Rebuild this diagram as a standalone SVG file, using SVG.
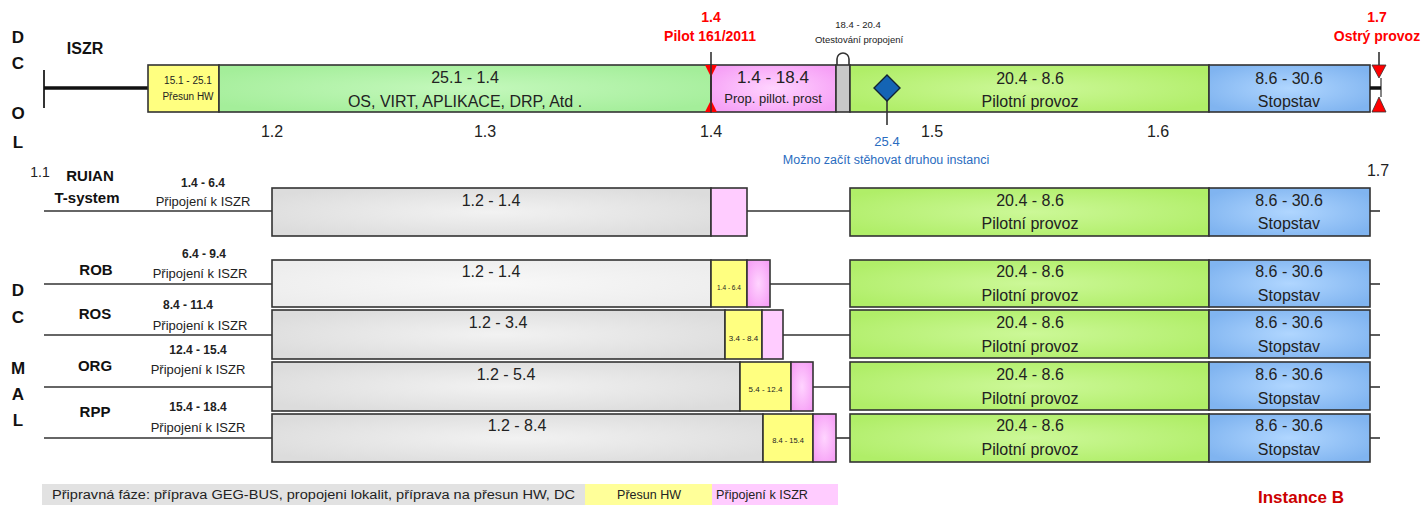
<svg xmlns="http://www.w3.org/2000/svg" width="1425" height="505" viewBox="0 0 1425 505">
<defs>
<radialGradient id="gGray" cx="50%" cy="50%" r="60%"><stop offset="0" stop-color="#f2f2f2"/><stop offset="1" stop-color="#dcdcdc"/></radialGradient>
<radialGradient id="gGrayL" cx="50%" cy="50%" r="60%"><stop offset="0" stop-color="#f8f8f8"/><stop offset="1" stop-color="#ededed"/></radialGradient>
<radialGradient id="gGreen" cx="50%" cy="50%" r="60%"><stop offset="0" stop-color="#c4f8bc"/><stop offset="1" stop-color="#a4ee9a"/></radialGradient>
<radialGradient id="gLime" cx="50%" cy="50%" r="60%"><stop offset="0" stop-color="#ccf898"/><stop offset="1" stop-color="#b0ee68"/></radialGradient>
<radialGradient id="gBlue" cx="50%" cy="50%" r="60%"><stop offset="0" stop-color="#b0d6ff"/><stop offset="1" stop-color="#80b4f0"/></radialGradient>
<radialGradient id="gPink" cx="50%" cy="50%" r="60%"><stop offset="0" stop-color="#ffd4ff"/><stop offset="1" stop-color="#f6a0f6"/></radialGradient>
<clipPath id="cRos"><rect x="725" y="310" width="37" height="49"/></clipPath>
<style>
.box{stroke:#333;stroke-width:1.6}
.gray{fill:url(#gGray)}
.grayl{fill:url(#gGrayL)}
.green{fill:url(#gGreen)}
.lime{fill:url(#gLime)}
.blue{fill:url(#gBlue)}
.pink{fill:url(#gPink)}
.pinkl{fill:#ffccff}
.yel{fill:#ffff80}
.ln{stroke:#333;stroke-width:1.6;fill:none}
text{font-family:"Liberation Sans",Arial,sans-serif;fill:#222;text-anchor:middle}
.big{font-size:16px}
.mid{font-size:13px}
.sm{font-size:10px}
.b{font-weight:bold}
.lab{font-size:15px;font-weight:bold;fill:#111}
.dc{font-size:17px;font-weight:bold;fill:#111}
.num{font-size:16px}
.rd{fill:#f00;font-weight:bold;font-size:14px}
.tri{fill:#f00}
.bl{fill:#2a6cc0}
</style>
</defs>
<rect width="1425" height="505" fill="#fff"/>

<g id="side-labels">
<text class="dc" x="18" y="43">D</text>
<text class="dc" x="18" y="69">C</text>
<text class="dc" x="18" y="119">O</text>
<text class="dc" x="18" y="148">L</text>
<text class="dc" x="18" y="296">D</text>
<text class="dc" x="18" y="323">C</text>
<text class="dc" x="18" y="374">M</text>
<text class="dc" x="18" y="400">A</text>
<text class="dc" x="18" y="426">L</text>
</g>

<g id="iszr">
<text class="lab" x="85" y="54" style="font-size:16px">ISZR</text>
<line x1="44" y1="70" x2="44" y2="108" class="ln" style="stroke-width:2"/>
<line x1="44" y1="88" x2="148" y2="88" stroke="#111" stroke-width="3.5"/>
<rect class="box yel" x="148" y="65" width="71" height="47"/>
<text class="sm" x="188" y="84">15.1 - 25.1</text>
<text class="sm" x="188" y="100">Přesun HW</text>
<rect class="box green" x="219" y="65" width="492" height="47"/>
<text class="big" x="465" y="83">25.1 - 1.4</text>
<text class="big" x="465" y="107">OS, VIRT, APLIKACE, DRP, Atd .</text>
<rect class="box pink" x="711" y="65" width="125" height="47"/>
<text x="773" y="83" style="font-size:17px">1.4 - 18.4</text>
<text class="mid" x="773" y="103">Prop. pillot. prost</text>
<path d="M837,65 V59 A6,6 0 0 1 849,59 V65" fill="#fff" stroke="#333" stroke-width="1.6"/>
<rect class="box" x="836" y="65" width="14" height="47" fill="#c8c8c8"/>
<rect class="box lime" x="850" y="65" width="359" height="47"/>
<text class="big" x="1030" y="84">20.4 - 8.6</text>
<text class="big" x="1030" y="107">Pilotní provoz</text>
<rect class="box blue" x="1209" y="65" width="161" height="47"/>
<text class="big" x="1289" y="84">8.6 - 30.6</text>
<text class="big" x="1289" y="107">Stopstav</text>
</g>

<g id="milestone-pilot">
<line x1="711" y1="52" x2="711" y2="112" class="ln"/>
<polygon class="tri" points="705,65 717,65 711,77"/>
<polygon class="tri" points="705,112 717,112 711,100"/>
<line x1="711" y1="65" x2="711" y2="112" class="ln"/>
<text class="rd" x="711" y="22">1.4</text>
<text class="rd" x="710" y="41">Pilot 161/2011</text>
</g>

<g id="milestone-test">
<text x="858" y="28" style="font-size:9.5px">18.4 - 20.4</text>
<text x="859" y="43" style="font-size:9.5px">Otestování propojení</text>
</g>

<g id="milestone-25-4">
<line x1="887" y1="100" x2="887" y2="125" class="ln"/>
<polygon points="887,75 900,88 887,101 874,88" fill="#1464b4" stroke="#123" stroke-width="1.4"/>
<text class="bl" x="887" y="146" style="font-size:13px">25.4</text>
<text class="bl" x="886" y="164" style="font-size:12.5px">Možno začít stěhovat druhou instanci</text>
</g>

<g id="milestone-ostry">
<line x1="1379" y1="52" x2="1379" y2="65" class="ln"/>
<line x1="1381" y1="78" x2="1381" y2="97" class="ln" style="stroke-width:1.2"/>
<line x1="1370" y1="88" x2="1381" y2="88" stroke="#111" stroke-width="3.5"/>
<polygon class="tri" points="1372,65 1386,65 1379,78" stroke="#333" stroke-width="0.8"/>
<polygon class="tri" points="1372,112 1386,112 1379,97" stroke="#333" stroke-width="0.8"/>
<text class="rd" x="1377" y="22">1.7</text>
<text class="rd" x="1377" y="41">Ostrý provoz</text>
</g>

<g id="axis">
<text class="num" x="272" y="137">1.2</text>
<text class="num" x="485" y="137">1.3</text>
<text class="num" x="711" y="137">1.4</text>
<text class="num" x="932" y="137">1.5</text>
<text class="num" x="1158" y="137">1.6</text>
<text class="num" x="40" y="177" style="font-size:14px">1.1</text>
<text class="num" x="1378" y="176">1.7</text>
</g>

<g id="connectors">
<line class="ln" x1="44" y1="211" x2="272" y2="211"/>
<line class="ln" x1="747" y1="211" x2="850" y2="211"/>
<line class="ln" x1="1370" y1="211" x2="1380" y2="211"/>
<line class="ln" x1="44" y1="284" x2="272" y2="284"/>
<line class="ln" x1="770" y1="284" x2="850" y2="284"/>
<line class="ln" x1="1370" y1="284" x2="1380" y2="284"/>
<line class="ln" x1="44" y1="335" x2="272" y2="335"/>
<line class="ln" x1="783" y1="335" x2="850" y2="335"/>
<line class="ln" x1="1370" y1="335" x2="1380" y2="335"/>
<line class="ln" x1="44" y1="387" x2="272" y2="387"/>
<line class="ln" x1="813" y1="387" x2="850" y2="387"/>
<line class="ln" x1="1370" y1="387" x2="1380" y2="387"/>
<line class="ln" x1="44" y1="438" x2="272" y2="438"/>
<line class="ln" x1="836" y1="438" x2="850" y2="438"/>
<line class="ln" x1="1370" y1="438" x2="1380" y2="438"/>
</g>

<g id="ruian">
<text class="lab" x="90" y="181">RUIAN</text>
<text class="lab" x="87" y="203">T-system</text>
<text class="b" x="203" y="187" style="font-size:12px">1.4 - 6.4</text>
<text x="203" y="206" style="font-size:13px">Připojení k ISZR</text>
<rect class="box gray" x="272" y="188" width="439" height="48"/>
<text class="big" x="491" y="206">1.2 - 1.4</text>
<rect class="box pinkl" x="711" y="188" width="36" height="48"/>
<rect class="box lime" x="850" y="188" width="359" height="48"/>
<text class="big" x="1030" y="206">20.4 - 8.6</text>
<text class="big" x="1030" y="229">Pilotní provoz</text>
<rect class="box blue" x="1209" y="188" width="161" height="48"/>
<text class="big" x="1289" y="206">8.6 - 30.6</text>
<text class="big" x="1289" y="229">Stopstav</text>
</g>

<g id="rob">
<text class="lab" x="96" y="275">ROB</text>
<text class="b" x="204" y="258" style="font-size:12px">6.4 - 9.4</text>
<text x="200" y="278" style="font-size:13px">Připojení k ISZR</text>
<rect class="box grayl" x="272" y="260" width="439" height="47"/>
<text class="big" x="491" y="277">1.2 - 1.4</text>
<rect class="box yel" x="711" y="260" width="36" height="47"/>
<text x="729" y="290" style="font-size:6.5px">1.4 - 6.4</text>
<rect class="box pink" x="747" y="260" width="23" height="47"/>
<rect class="box lime" x="850" y="260" width="359" height="47"/>
<text class="big" x="1030" y="277">20.4 - 8.6</text>
<text class="big" x="1030" y="301">Pilotní provoz</text>
<rect class="box blue" x="1209" y="260" width="161" height="47"/>
<text class="big" x="1289" y="277">8.6 - 30.6</text>
<text class="big" x="1289" y="301">Stopstav</text>
</g>

<g id="ros">
<text class="lab" x="95" y="319">ROS</text>
<text class="b" x="188" y="309" style="font-size:12px">8.4 - 11.4</text>
<text x="200" y="330" style="font-size:13px">Připojení k ISZR</text>
<rect class="box gray" x="272" y="310" width="453" height="49"/>
<text class="big" x="498" y="328">1.2 - 3.4</text>
<rect class="box yel" x="725" y="310" width="37" height="49"/>
<text x="743.5" y="341" style="font-size:8px" clip-path="url(#cRos)">3.4 - 8.4</text>
<rect class="box pinkl" x="762" y="310" width="21" height="49"/>
<rect class="box lime" x="850" y="310" width="359" height="48"/>
<text class="big" x="1030" y="328">20.4 - 8.6</text>
<text class="big" x="1030" y="352">Pilotní provoz</text>
<rect class="box blue" x="1209" y="310" width="161" height="48"/>
<text class="big" x="1289" y="328">8.6 - 30.6</text>
<text class="big" x="1289" y="352">Stopstav</text>
</g>

<g id="org">
<text class="lab" x="95" y="371">ORG</text>
<text class="b" x="198" y="354" style="font-size:12px">12.4 - 15.4</text>
<text x="198" y="374" style="font-size:13px">Připojení k ISZR</text>
<rect class="box gray" x="272" y="362" width="468" height="49"/>
<text class="big" x="506" y="380">1.2 - 5.4</text>
<rect class="box yel" x="740" y="362" width="51" height="49"/>
<text x="765.5" y="392" style="font-size:8px">5.4 - 12.4</text>
<rect class="box pink" x="791" y="362" width="22" height="49"/>
<rect class="box lime" x="850" y="362" width="359" height="48"/>
<text class="big" x="1030" y="380">20.4 - 8.6</text>
<text class="big" x="1030" y="404">Pilotní provoz</text>
<rect class="box blue" x="1209" y="362" width="161" height="48"/>
<text class="big" x="1289" y="380">8.6 - 30.6</text>
<text class="big" x="1289" y="404">Stopstav</text>
</g>

<g id="rpp">
<text class="lab" x="95" y="417">RPP</text>
<text class="b" x="198" y="411" style="font-size:12px">15.4 - 18.4</text>
<text x="198" y="432" style="font-size:13px">Připojení k ISZR</text>
<rect class="box gray" x="272" y="414" width="491" height="48"/>
<text class="big" x="517" y="431">1.2 - 8.4</text>
<rect class="box yel" x="763" y="414" width="50" height="48"/>
<text x="788" y="443" style="font-size:7.5px">8.4 - 15.4</text>
<rect class="box pink" x="813" y="414" width="23" height="48"/>
<rect class="box lime" x="850" y="414" width="359" height="48"/>
<text class="big" x="1030" y="431">20.4 - 8.6</text>
<text class="big" x="1030" y="455">Pilotní provoz</text>
<rect class="box blue" x="1209" y="414" width="161" height="48"/>
<text class="big" x="1289" y="431">8.6 - 30.6</text>
<text class="big" x="1289" y="455">Stopstav</text>
</g>

<g id="legend">
<rect x="42" y="484" width="543" height="21" fill="#e2e2e2"/>
<rect x="585" y="484" width="127" height="21" fill="#ffff99"/>
<rect x="712" y="484" width="126" height="21" fill="#ffccff"/>
<text x="52" y="499" style="font-size:12.5px;text-anchor:start" textLength="523" lengthAdjust="spacingAndGlyphs">Připravná fáze: příprava GEG-BUS, propojeni lokalit, příprava na přesun HW, DC</text>
<text x="649" y="499" style="font-size:12.5px">Přesun HW</text>
<text x="716" y="499" style="font-size:12.5px;text-anchor:start" textLength="92" lengthAdjust="spacingAndGlyphs">Připojení k ISZR</text>
</g>

<g id="instance">
<text x="1301" y="503" style="font-size:17px;font-weight:bold;fill:#c00">Instance B</text>
</g>
</svg>
